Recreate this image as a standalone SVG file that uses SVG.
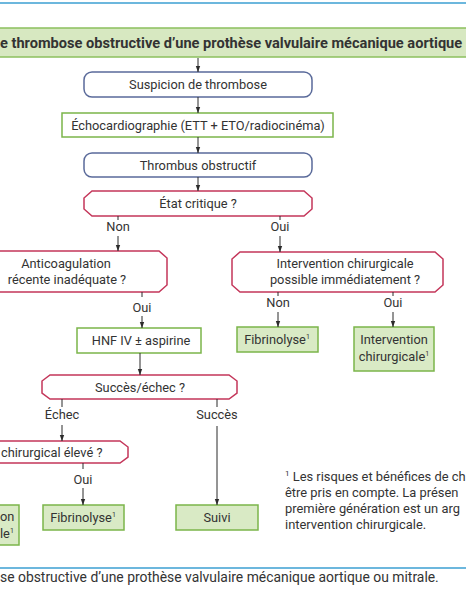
<svg xmlns="http://www.w3.org/2000/svg" width="466" height="600" viewBox="0 0 466 600">
<defs>
<marker id="ah" viewBox="0 0 6 6" refX="6" refY="3" markerWidth="6" markerHeight="6" orient="auto" markerUnits="userSpaceOnUse">
<path d="M0,0.8 L6,3 L0,5.2 Z" fill="#2b2b2b"/>
</marker>
<style>
text{font-family:"Roboto","Liberation Sans",sans-serif;font-size:12.8px;fill:#333;}
.t{text-anchor:middle;}
.b{font-weight:bold;font-size:14.6px;}
.blue{fill:#fff;stroke:#5a6a9a;stroke-width:1.5;}
.red{fill:#fff;stroke:#c4365a;stroke-width:1.5;}
.gw{fill:#fff;stroke:#7bb54a;stroke-width:1.5;}
.gf{fill:#d9eac5;stroke:#7bb54a;stroke-width:1.5;}
.c line{stroke:#2b2b2b;stroke-width:1;}
.sep{stroke:#3b9fd2;stroke-width:1.5;}
.fn{font-size:12.9px;}
.cap{font-size:13.9px;}
</style>
</defs>
<rect width="466" height="600" fill="#fff"/>
<line class="sep" x1="0" y1="3" x2="466" y2="3"/>
<g id="title">
<rect x="-2" y="28" width="470" height="29" fill="#d7e8c1" stroke="#8cc05e" stroke-width="1.5"/>
<text class="b" x="0" y="47.5">e thrombose obstructive d’une prothèse valvulaire mécanique aortique</text>
</g>
<g id="suspicion">
<rect class="blue" x="84" y="72" width="228" height="25" rx="8"/>
<text class="t" x="198" y="89">Suspicion de thrombose</text>
</g>
<g id="echo">
<rect class="gw" x="62" y="113" width="271" height="24"/>
<text class="t" x="198" y="129.5">Échocardiographie (ETT + ETO/radiocinéma)</text>
</g>
<g id="thrombus">
<rect class="blue" x="84" y="153" width="228" height="24" rx="8"/>
<text class="t" x="198" y="169.5">Thrombus obstructif</text>
</g>
<g id="etat">
<path class="red" d="M92,191 H304 L312,198 V209 L304,216 H92 L84,209 V198 Z"/>
<text class="t" x="198" y="208">État critique ?</text>
</g>
<g id="anticoag">
<path class="red" d="M-40,251 H159 L167,258 V285 L159,292 H-40 Z"/>
<text class="t" x="66" y="268">Anticoagulation</text>
<text class="t" x="67" y="284">récente inadéquate ?</text>
</g>
<g id="intervq">
<path class="red" d="M240,252 H435 L443,259 V285 L435,292 H240 L232,285 V259 Z"/>
<text class="t" x="345" y="268">Intervention chirurgicale</text>
<text class="t" x="345" y="284">possible immédiatement ?</text>
</g>
<g id="hnf">
<rect class="gw" x="77" y="328" width="124" height="25"/>
<text class="t" x="141" y="345">HNF IV ± aspirine</text>
</g>
<g id="fibrino1">
<rect class="gf" x="237" y="327" width="81" height="25"/>
<text class="t" x="277" y="344">Fibrinolyse<tspan font-size="7" dy="-5">1</tspan></text>
</g>
<g id="interv1">
<rect class="gf" x="354" y="327" width="80" height="44"/>
<text class="t" x="394" y="344">Intervention</text>
<text class="t" x="394" y="361">chirurgicale<tspan font-size="7" dy="-5">1</tspan></text>
</g>
<g id="succes">
<path class="red" d="M50,375 H229 L237,381 V393 L229,399 H50 L42,393 V381 Z"/>
<text class="t" x="140" y="391.5">Succès/échec ?</text>
</g>
<g id="risque">
<path class="red" d="M-20,441 H120 L128,447 V457 L120,463 H-20 Z"/>
<text x="1" y="456.5">chirurgical élevé ?</text>
</g>
<g id="interv2">
<rect class="gf" x="-10" y="505" width="29" height="40"/>
<text x="0" y="521">on</text>
<text x="0" y="538">le<tspan font-size="7" dy="-5">1</tspan></text>
</g>
<g id="fibrino2">
<rect class="gf" x="43" y="505" width="81" height="25"/>
<text class="t" x="83" y="522">Fibrinolyse<tspan font-size="7" dy="-5">1</tspan></text>
</g>
<g id="suivi">
<rect class="gf" x="176" y="505" width="82" height="25"/>
<text class="t" x="217" y="522">Suivi</text>
</g>
<g class="c" id="connectors">
<line x1="198" y1="58" x2="198" y2="72" marker-end="url(#ah)"/>
<line x1="198" y1="97" x2="198" y2="113" marker-end="url(#ah)"/>
<line x1="198" y1="137" x2="198" y2="153" marker-end="url(#ah)"/>
<line x1="198" y1="177" x2="198" y2="191" marker-end="url(#ah)"/>
<line x1="118" y1="216" x2="118" y2="220"/>
<line x1="118" y1="236" x2="118" y2="251" marker-end="url(#ah)"/>
<line x1="280" y1="216" x2="280" y2="220"/>
<line x1="280" y1="236" x2="280" y2="252" marker-end="url(#ah)"/>
<line x1="142" y1="292" x2="142" y2="297"/>
<line x1="142" y1="316" x2="142" y2="328" marker-end="url(#ah)"/>
<line x1="278" y1="292" x2="278" y2="296"/>
<line x1="278" y1="312" x2="278" y2="327" marker-end="url(#ah)"/>
<line x1="393" y1="292" x2="393" y2="296"/>
<line x1="393" y1="312" x2="393" y2="327" marker-end="url(#ah)"/>
<line x1="140" y1="353" x2="140" y2="375" marker-end="url(#ah)"/>
<line x1="62" y1="399" x2="62" y2="407"/>
<line x1="62" y1="425" x2="62" y2="441" marker-end="url(#ah)"/>
<line x1="217" y1="399" x2="217" y2="407"/>
<line x1="217" y1="426" x2="217" y2="505" marker-end="url(#ah)"/>
<line x1="83" y1="463" x2="83" y2="469"/>
<line x1="83" y1="488" x2="83" y2="505" marker-end="url(#ah)"/>
</g>
<g id="labels">
<text class="t" x="118" y="231">Non</text>
<text class="t" x="280" y="231">Oui</text>
<text class="t" x="142" y="312">Oui</text>
<text class="t" x="278" y="307">Non</text>
<text class="t" x="393" y="307">Oui</text>
<text class="t" x="62" y="419">Échec</text>
<text class="t" x="217" y="419">Succès</text>
<text class="t" x="83" y="484">Oui</text>
</g>
<g id="footnote">
<text class="fn" x="285" y="481"><tspan font-size="8" dy="-5">1</tspan><tspan dy="5"> Les risques et bénéfices de ch</tspan></text>
<text class="fn" x="285" y="497">être pris en compte. La présen</text>
<text class="fn" x="285" y="513">première génération est un arg</text>
<text class="fn" x="285" y="529">intervention chirurgicale.</text>
</g>
<line class="sep" x1="0" y1="568" x2="466" y2="568"/>
<text class="cap" x="0" y="582">se obstructive d’une prothèse valvulaire mécanique aortique ou mitrale.</text>
</svg>
